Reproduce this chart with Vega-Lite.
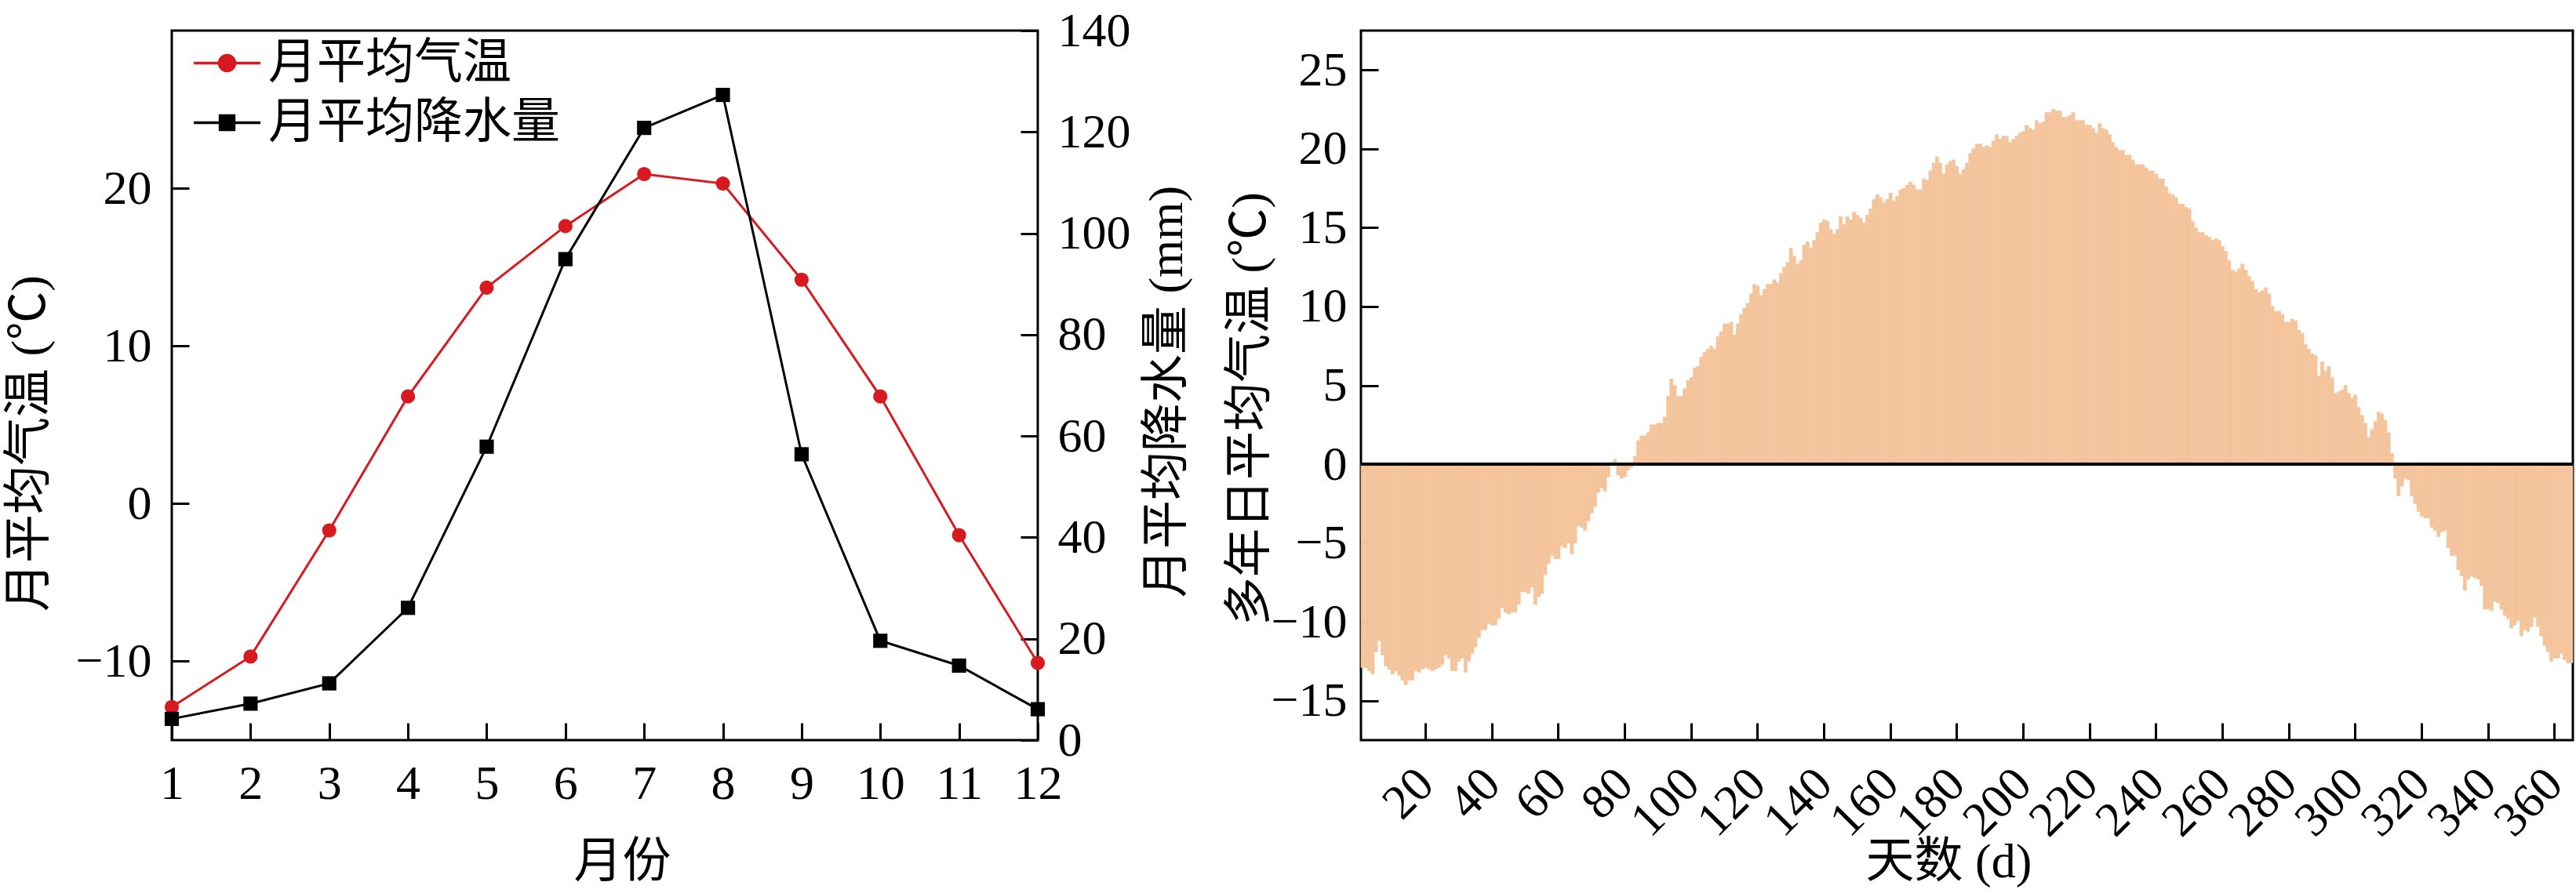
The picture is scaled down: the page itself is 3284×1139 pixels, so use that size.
{
  "$schema": "https://vega.github.io/schema/vega-lite/v6.json",
  "padding": {"left": 4, "top": 6, "right": 0, "bottom": 0},
  "background": "white",
  "config": {
    "font": "Liberation Serif, Noto Sans CJK SC",
    "view": {"stroke": "black", "strokeWidth": 3},
    "axis": {
      "domain": false,
      "grid": false,
      "ticks": true,
      "tickColor": "black",
      "tickWidth": 3,
      "tickSize": -22,
      "labelFont": "Liberation Serif, Noto Sans CJK SC",
      "labelFontSize": 62,
      "labelColor": "black",
      "labelFlush": false,
      "titleFont": "Liberation Serif, Noto Sans CJK SC",
      "titleFontSize": 62,
      "titleFontWeight": "normal",
      "titleColor": "black",
      "titleAlign": "center",
      "titleBaseline": "middle"
    },
    "legend": {
      "labelFont": "Liberation Serif, Noto Sans CJK SC",
      "labelFontSize": 62,
      "labelColor": "black",
      "labelLimit": 0
    }
  },
  "datasets": {
    "monthly": [
      {"month": 1, "temp": -12.9, "precip": 4.2},
      {"month": 2, "temp": -9.7, "precip": 7.2},
      {"month": 3, "temp": -1.7, "precip": 11.2},
      {"month": 4, "temp": 6.8, "precip": 26.1},
      {"month": 5, "temp": 13.7, "precip": 57.9},
      {"month": 6, "temp": 17.6, "precip": 94.9},
      {"month": 7, "temp": 20.9, "precip": 120.8},
      {"month": 8, "temp": 20.3, "precip": 127.3},
      {"month": 9, "temp": 14.2, "precip": 56.4},
      {"month": 10, "temp": 6.8, "precip": 19.6},
      {"month": 11, "temp": -2.0, "precip": 14.7},
      {"month": 12, "temp": -10.1, "precip": 6.1}
    ],
    "series": [
      {"month": 1, "temp": 0, "series": "月平均气温"},
      {"month": 1, "temp": 0, "series": "月平均降水量"}
    ],
    "daily": [
      {"day":1,"temp":-12.9},{"day":2,"temp":-12.9},{"day":3,"temp":-13.1},{"day":4,"temp":-13.3},{"day":5,"temp":-11.9},
      {"day":6,"temp":-11.2},{"day":7,"temp":-12.1},{"day":8,"temp":-12.8},{"day":9,"temp":-13.0},{"day":10,"temp":-13.3},
      {"day":11,"temp":-13.1},{"day":12,"temp":-13.4},{"day":13,"temp":-13.7},{"day":14,"temp":-14.0},{"day":15,"temp":-13.7},
      {"day":16,"temp":-13.7},{"day":17,"temp":-13.1},{"day":18,"temp":-13.2},{"day":19,"temp":-13.0},{"day":20,"temp":-12.9},
      {"day":21,"temp":-13.0},{"day":22,"temp":-13.1},{"day":23,"temp":-13.0},{"day":24,"temp":-12.9},{"day":25,"temp":-12.7},
      {"day":26,"temp":-12.1},{"day":27,"temp":-12.3},{"day":28,"temp":-13.1},{"day":29,"temp":-13.1},{"day":30,"temp":-12.5},
      {"day":31,"temp":-12.3},{"day":32,"temp":-13.2},{"day":33,"temp":-12.5},{"day":34,"temp":-12.0},{"day":35,"temp":-11.6},
      {"day":36,"temp":-11.0},{"day":37,"temp":-10.5},{"day":38,"temp":-10.5},{"day":39,"temp":-10.1},{"day":40,"temp":-10.2},
      {"day":41,"temp":-10.2},{"day":42,"temp":-9.8},{"day":43,"temp":-9.1},{"day":44,"temp":-9.4},{"day":45,"temp":-9.5},
      {"day":46,"temp":-9.4},{"day":47,"temp":-9.4},{"day":48,"temp":-8.9},{"day":49,"temp":-8.1},{"day":50,"temp":-8.1},
      {"day":51,"temp":-8.2},{"day":52,"temp":-7.8},{"day":53,"temp":-8.9},{"day":54,"temp":-8.4},{"day":55,"temp":-8.2},
      {"day":56,"temp":-7.0},{"day":57,"temp":-6.3},{"day":58,"temp":-5.8},{"day":59,"temp":-6.0},{"day":60,"temp":-6.0},
      {"day":61,"temp":-5.2},{"day":62,"temp":-5.3},{"day":63,"temp":-5.0},{"day":64,"temp":-5.7},{"day":65,"temp":-5.0},
      {"day":66,"temp":-3.9},{"day":67,"temp":-4.0},{"day":68,"temp":-4.2},{"day":69,"temp":-3.6},{"day":70,"temp":-3.1},
      {"day":71,"temp":-2.7},{"day":72,"temp":-1.8},{"day":73,"temp":-1.5},{"day":74,"temp":-1.7},{"day":75,"temp":-0.8},
      {"day":76,"temp":0.1},{"day":77,"temp":0.3},{"day":78,"temp":-0.7},{"day":79,"temp":-0.9},{"day":80,"temp":-0.8},
      {"day":81,"temp":-0.4},{"day":82,"temp":-0.2},{"day":83,"temp":0.5},{"day":84,"temp":1.5},{"day":85,"temp":1.8},
      {"day":86,"temp":1.8},{"day":87,"temp":2.0},{"day":88,"temp":2.5},{"day":89,"temp":2.5},{"day":90,"temp":2.6},
      {"day":91,"temp":2.6},{"day":92,"temp":3.0},{"day":93,"temp":4.3},{"day":94,"temp":5.4},{"day":95,"temp":5.0},
      {"day":96,"temp":4.3},{"day":97,"temp":4.3},{"day":98,"temp":4.8},{"day":99,"temp":5.3},{"day":100,"temp":5.5},
      {"day":101,"temp":6.1},{"day":102,"temp":6.2},{"day":103,"temp":6.8},{"day":104,"temp":7.1},{"day":105,"temp":7.3},
      {"day":106,"temp":7.5},{"day":107,"temp":7.3},{"day":108,"temp":8.1},{"day":109,"temp":8.4},{"day":110,"temp":8.9},
      {"day":111,"temp":8.9},{"day":112,"temp":9.0},{"day":113,"temp":8.2},{"day":114,"temp":8.9},{"day":115,"temp":9.5},
      {"day":116,"temp":9.9},{"day":117,"temp":10.2},{"day":118,"temp":10.8},{"day":119,"temp":11.4},{"day":120,"temp":11.3},
      {"day":121,"temp":10.7},{"day":122,"temp":11.1},{"day":123,"temp":11.4},{"day":124,"temp":11.4},{"day":125,"temp":11.7},
      {"day":126,"temp":11.5},{"day":127,"temp":12.1},{"day":128,"temp":12.5},{"day":129,"temp":12.8},{"day":130,"temp":13.7},
      {"day":131,"temp":13.2},{"day":132,"temp":12.7},{"day":133,"temp":12.9},{"day":134,"temp":13.9},{"day":135,"temp":14.1},
      {"day":136,"temp":13.7},{"day":137,"temp":14.2},{"day":138,"temp":14.7},{"day":139,"temp":15.3},{"day":140,"temp":15.5},
      {"day":141,"temp":15.4},{"day":142,"temp":14.9},{"day":143,"temp":14.6},{"day":144,"temp":14.9},{"day":145,"temp":15.7},
      {"day":146,"temp":15.2},{"day":147,"temp":15.7},{"day":148,"temp":15.5},{"day":149,"temp":16.0},{"day":150,"temp":15.8},
      {"day":151,"temp":15.6},{"day":152,"temp":15.3},{"day":153,"temp":15.8},{"day":154,"temp":16.2},{"day":155,"temp":16.8},
      {"day":156,"temp":17.1},{"day":157,"temp":16.9},{"day":158,"temp":16.6},{"day":159,"temp":16.8},{"day":160,"temp":17.2},
      {"day":161,"temp":16.7},{"day":162,"temp":17.0},{"day":163,"temp":17.4},{"day":164,"temp":17.5},{"day":165,"temp":17.7},
      {"day":166,"temp":17.9},{"day":167,"temp":17.7},{"day":168,"temp":17.4},{"day":169,"temp":17.4},{"day":170,"temp":18.1},
      {"day":171,"temp":18.0},{"day":172,"temp":18.6},{"day":173,"temp":19.1},{"day":174,"temp":19.5},{"day":175,"temp":19.1},
      {"day":176,"temp":18.4},{"day":177,"temp":19.0},{"day":178,"temp":19.2},{"day":179,"temp":19.3},{"day":180,"temp":18.9},
      {"day":181,"temp":18.4},{"day":182,"temp":18.7},{"day":183,"temp":19.1},{"day":184,"temp":19.7},{"day":185,"temp":20.0},
      {"day":186,"temp":20.3},{"day":187,"temp":20.3},{"day":188,"temp":20.1},{"day":189,"temp":20.2},{"day":190,"temp":20.1},
      {"day":191,"temp":20.5},{"day":192,"temp":20.9},{"day":193,"temp":20.6},{"day":194,"temp":20.8},{"day":195,"temp":20.8},
      {"day":196,"temp":20.4},{"day":197,"temp":20.6},{"day":198,"temp":20.8},{"day":199,"temp":21.0},{"day":200,"temp":21.1},
      {"day":201,"temp":21.5},{"day":202,"temp":21.3},{"day":203,"temp":21.2},{"day":204,"temp":21.8},{"day":205,"temp":21.6},
      {"day":206,"temp":21.7},{"day":207,"temp":22.3},{"day":208,"temp":22.3},{"day":209,"temp":22.5},{"day":210,"temp":22.4},
      {"day":211,"temp":22.4},{"day":212,"temp":22.0},{"day":213,"temp":22.0},{"day":214,"temp":22.1},{"day":215,"temp":22.3},
      {"day":216,"temp":21.8},{"day":217,"temp":21.8},{"day":218,"temp":21.8},{"day":219,"temp":21.5},{"day":220,"temp":21.5},
      {"day":221,"temp":21.3},{"day":222,"temp":21.0},{"day":223,"temp":21.6},{"day":224,"temp":21.3},{"day":225,"temp":21.2},
      {"day":226,"temp":20.9},{"day":227,"temp":20.4},{"day":228,"temp":20.1},{"day":229,"temp":19.9},{"day":230,"temp":19.9},
      {"day":231,"temp":19.6},{"day":232,"temp":19.6},{"day":233,"temp":19.3},{"day":234,"temp":19.0},{"day":235,"temp":19.0},
      {"day":236,"temp":19.0},{"day":237,"temp":18.8},{"day":238,"temp":18.6},{"day":239,"temp":18.6},{"day":240,"temp":18.4},
      {"day":241,"temp":18.1},{"day":242,"temp":18.1},{"day":243,"temp":17.6},{"day":244,"temp":17.2},{"day":245,"temp":17.1},
      {"day":246,"temp":16.9},{"day":247,"temp":16.5},{"day":248,"temp":16.5},{"day":249,"temp":16.3},{"day":250,"temp":16.2},
      {"day":251,"temp":15.4},{"day":252,"temp":15.0},{"day":253,"temp":14.7},{"day":254,"temp":14.7},{"day":255,"temp":14.5},
      {"day":256,"temp":14.4},{"day":257,"temp":14.2},{"day":258,"temp":14.3},{"day":259,"temp":14.2},{"day":260,"temp":13.8},
      {"day":261,"temp":13.5},{"day":262,"temp":12.9},{"day":263,"temp":12.3},{"day":264,"temp":12.2},{"day":265,"temp":12.4},
      {"day":266,"temp":12.7},{"day":267,"temp":12.3},{"day":268,"temp":11.9},{"day":269,"temp":11.6},{"day":270,"temp":11.1},
      {"day":271,"temp":10.9},{"day":272,"temp":11.0},{"day":273,"temp":11.2},{"day":274,"temp":10.8},{"day":275,"temp":10.0},
      {"day":276,"temp":9.7},{"day":277,"temp":9.7},{"day":278,"temp":9.5},{"day":279,"temp":9.0},{"day":280,"temp":9.0},
      {"day":281,"temp":9.2},{"day":282,"temp":9.1},{"day":283,"temp":8.5},{"day":284,"temp":8.3},{"day":285,"temp":7.6},
      {"day":286,"temp":7.3},{"day":287,"temp":7.0},{"day":288,"temp":6.9},{"day":289,"temp":5.6},{"day":290,"temp":6.5},
      {"day":291,"temp":5.9},{"day":292,"temp":6.2},{"day":293,"temp":5.5},{"day":294,"temp":4.5},{"day":295,"temp":4.6},
      {"day":296,"temp":4.7},{"day":297,"temp":5.0},{"day":298,"temp":4.5},{"day":299,"temp":4.2},{"day":300,"temp":4.4},
      {"day":301,"temp":3.6},{"day":302,"temp":3.1},{"day":303,"temp":2.6},{"day":304,"temp":1.7},{"day":305,"temp":2.2},
      {"day":306,"temp":2.7},{"day":307,"temp":3.3},{"day":308,"temp":3.2},{"day":309,"temp":2.8},{"day":310,"temp":2.0},
      {"day":311,"temp":0.7},{"day":312,"temp":-0.9},{"day":313,"temp":-2.0},{"day":314,"temp":-1.4},{"day":315,"temp":-0.9},
      {"day":316,"temp":-1.0},{"day":317,"temp":-2.0},{"day":318,"temp":-2.5},{"day":319,"temp":-3.0},{"day":320,"temp":-3.3},
      {"day":321,"temp":-3.4},{"day":322,"temp":-3.4},{"day":323,"temp":-4.0},{"day":324,"temp":-4.2},{"day":325,"temp":-4.6},
      {"day":326,"temp":-4.3},{"day":327,"temp":-4.2},{"day":328,"temp":-5.3},{"day":329,"temp":-5.8},{"day":330,"temp":-5.8},
      {"day":331,"temp":-6.7},{"day":332,"temp":-7.1},{"day":333,"temp":-8.0},{"day":334,"temp":-7.3},{"day":335,"temp":-7.1},
      {"day":336,"temp":-7.2},{"day":337,"temp":-7.3},{"day":338,"temp":-7.7},{"day":339,"temp":-9.2},{"day":340,"temp":-9.2},
      {"day":341,"temp":-9.3},{"day":342,"temp":-8.7},{"day":343,"temp":-8.8},{"day":344,"temp":-9.2},{"day":345,"temp":-9.6},
      {"day":346,"temp":-9.8},{"day":347,"temp":-10.4},{"day":348,"temp":-10.2},{"day":349,"temp":-9.9},{"day":350,"temp":-10.9},
      {"day":351,"temp":-10.5},{"day":352,"temp":-10.6},{"day":353,"temp":-10.3},{"day":354,"temp":-9.7},{"day":355,"temp":-10.3},
      {"day":356,"temp":-10.9},{"day":357,"temp":-11.5},{"day":358,"temp":-11.9},{"day":359,"temp":-12.5},{"day":360,"temp":-12.3},
      {"day":361,"temp":-12.3},{"day":362,"temp":-12.0},{"day":363,"temp":-12.4},{"day":364,"temp":-12.6},{"day":365,"temp":-12.6}
    ]
  },
  "bounds": "flush",
  "spacing": 412,
  "hconcat": [
    {
      "width": 1104,
      "height": 905,
      "data": {"name": "monthly"},
      "encoding": {
        "x": {
          "field": "month",
          "type": "quantitative",
          "scale": {"domain": [1, 12], "nice": false},
          "axis": {
            "values": [1, 2, 3, 4, 5, 6, 7, 8, 9, 10, 11, 12],
            "format": "d",
            "title": "月份",
            "labelPadding": 47,
            "titleX": 574,
            "titleY": 155
          }
        }
      },
      "layer": [
        {
          "layer": [
            {
              "mark": {"type": "line", "color": "#D61A1F", "strokeWidth": 3},
              "encoding": {
                "y": {
                  "field": "temp",
                  "type": "quantitative",
                  "scale": {"domain": [-15, 30], "nice": false, "zero": false},
                  "axis": {
                    "values": [-10, 0, 10, 20],
                    "title": "月平均气温 (℃)",
                    "labelPadding": 48,
                    "titleAngle": -90,
                    "titleX": -182,
                    "titleY": 526
                  }
                }
              }
            },
            {
              "mark": {"type": "point", "shape": "circle", "filled": true, "size": 330, "color": "#D61A1F", "opacity": 1},
              "encoding": {"y": {"field": "temp", "type": "quantitative"}}
            },
            {
              "data": {"name": "series"},
              "mark": {"type": "point", "filled": true, "opacity": 0, "size": 7225},
              "encoding": {
                "y": {"field": "temp", "type": "quantitative"},
                "shape": {
                  "field": "series",
                  "type": "nominal",
                  "scale": {
                    "domain": ["月平均气温", "月平均降水量"],
                    "range": [
                      "M-1,0L1,0M-0.235,0A0.235,0.235,0,1,0,0.235,0A0.235,0.235,0,1,0,-0.235,0Z",
                      "M-1,0L1,0M-0.21,-0.21L0.21,-0.21L0.21,0.21L-0.21,0.21Z"
                    ]
                  },
                  "legend": {
                    "title": null,
                    "orient": "none",
                    "legendX": 26,
                    "legendY": -3,
                    "symbolSize": 7225,
                    "symbolStrokeWidth": 3.5,
                    "symbolOpacity": 1,
                    "labelOffset": 8,
                    "rowPadding": -3
                  }
                },
                "fill": {
                  "field": "series",
                  "type": "nominal",
                  "scale": {"domain": ["月平均气温", "月平均降水量"], "range": ["#D61A1F", "#000000"]}
                },
                "stroke": {
                  "field": "series",
                  "type": "nominal",
                  "scale": {"domain": ["月平均气温", "月平均降水量"], "range": ["#D61A1F", "#000000"]}
                }
              }
            }
          ]
        },
        {
          "layer": [
            {
              "mark": {"type": "line", "color": "black", "strokeWidth": 3},
              "encoding": {
                "y": {
                  "field": "precip",
                  "type": "quantitative",
                  "scale": {"domain": [0, 140], "nice": false},
                  "axis": {
                    "orient": "right",
                    "values": [0, 20, 40, 60, 80, 100, 120, 140],
                    "title": "月平均降水量 (mm)",
                    "titleAngle": -90,
                    "labelPadding": 47,
                    "titleX": 164,
                    "titleY": 460
                  }
                }
              }
            },
            {
              "mark": {"type": "point", "shape": "square", "filled": true, "size": 330, "color": "black", "opacity": 1},
              "encoding": {"y": {"field": "precip", "type": "quantitative"}}
            }
          ]
        }
      ],
      "resolve": {"scale": {"y": "independent"}}
    },
    {
      "width": 1545,
      "height": 905,
      "data": {"name": "daily"},
      "layer": [
        {
          "mark": {"type": "bar", "color": "#F4C59C", "stroke": "#F4C59C", "strokeWidth": 0.6},
          "encoding": {
            "x": {
              "field": "day",
              "type": "ordinal",
              "scale": {"paddingInner": 0, "paddingOuter": 0},
              "axis": {
                "values": [20, 40, 60, 80, 100, 120, 140, 160, 180, 200, 220, 240, 260, 280, 300, 320, 340, 360],
                "labelAngle": -45,
                "labelAlign": "right",
                "labelBaseline": "middle",
                "labelPadding": 68,
                "title": "天数 (d)",
                "titleX": 749,
                "titleY": 155
              }
            },
            "y": {
              "field": "temp",
              "type": "quantitative",
              "scale": {"domain": [-17.5, 27.5], "nice": false},
              "axis": {
                "values": [-15, -10, -5, 0, 5, 10, 15, 20, 25],
                "title": "多年日平均气温 (℃)",
                "labelPadding": 40,
                "titleAngle": -90,
                "titleX": -142,
                "titleY": 482
              }
            }
          }
        },
        {
          "mark": {"type": "rule", "color": "black", "strokeWidth": 3.5},
          "encoding": {"y": {"datum": 0}}
        }
      ]
    }
  ]
}
